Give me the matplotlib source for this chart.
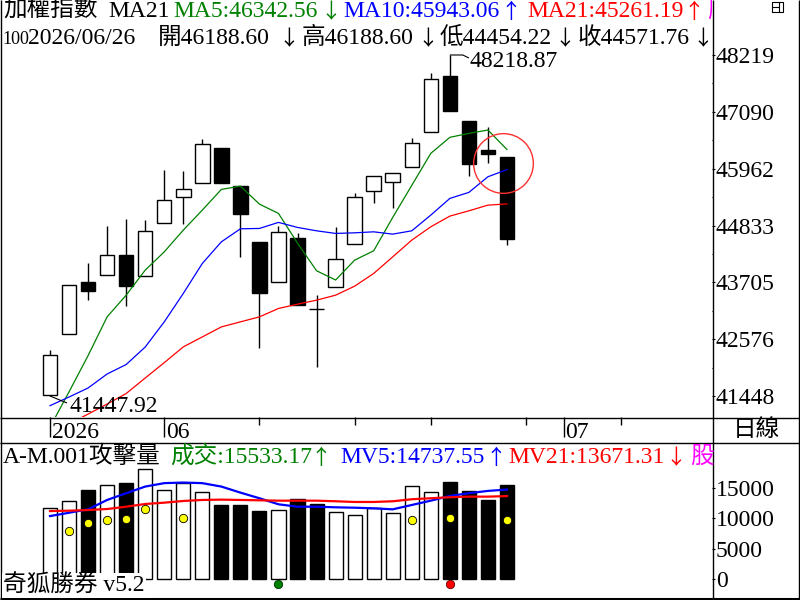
import matplotlib
matplotlib.use('Agg')
import matplotlib.pyplot as plt
from matplotlib.lines import Line2D
from matplotlib.transforms import Affine2D
import numpy as np

plt.rcParams['font.family'] = ['Liberation Serif', 'Noto Sans CJK TC', 'DejaVu Sans']

# ---------------- data ----------------
opens = [41463, 42675, 43709, 43848, 44245, 43828, 44881, 45397, 45676, 46371,
         45616, 44503, 43709, 44583, 43172, 43609, 44463, 45517, 45695, 45994,
         46689, 47802, 46908, 46331, 46188.60]
highs = [42357, 43649, 44086, 44821, 44960, 44941, 45934, 45914, 46550, 46371,
         45616, 44503, 44821, 44682, 43450, 44801, 45477, 45815, 45874, 46570,
         47861, 48218.87, 46908, 46788, 46188.60]
lows = [41447.92, 42675, 43351, 43848, 43232, 43828, 44881, 44861, 45676, 45676,
        44205, 42397, 43709, 43251, 42020, 43609, 44463, 45278, 45179, 45994,
        46689, 47106, 45815, 46073, 44454.22]
closes = [42258, 43649, 43530, 44245, 43629, 44722, 45338, 45556, 46451, 45676,
          45060, 43490, 44702, 43251, 43172, 44165, 45397, 45815, 45874, 46470,
          47742, 47106, 46053, 46252, 44571.76]

ma5 = [40831, 41530, 42250, 43019, 43450, 43947, 44310, 44742, 45139, 45550,
       45616, 45258, 45073, 44483, 43935, 43751, 44146, 44331, 44994, 45630,
       46266, 46584, 46663, 46729, 46342.56]
ma10 = [41256, 41428, 41607, 41885, 42073, 42420, 42920, 43484, 44080, 44509,
        44768, 44775, 44895, 44795, 44728, 44676, 44688, 44708, 44662, 44728,
        45040, 45371, 45491, 45801, 45943.06]
ma21 = [40693, 40893, 41089, 41288, 41497, 41805, 42110, 42423, 42621, 42820,
        42920, 43019, 43186, 43271, 43351, 43450, 43629, 43881, 44211, 44543,
        44808, 45020, 45125, 45238, 45261.19]

volumes = [11667, 12822, 14686, 15512, 15842, 18102, 14637, 15792, 14307, 12211,
           12211, 11221, 11331, 13152, 12376, 11007, 10561, 11667, 10842, 15297,
           14307, 16007, 14521, 13036, 15533.17]
vol_hollow = [1, 1, 0, 1, 0, 1, 1, 1, 1, 0, 0, 0, 1, 0, 0, 1, 1, 1, 1, 1, 1, 0, 0, 0, 0]
mv5 = [10396, 10940, 11502, 13036, 14142, 15231, 15792, 15891, 15792, 15231,
       14241, 13317, 12327, 11931, 11931, 11832, 11766, 11667, 11502, 12211,
       12921, 13696, 14142, 14521, 14737.55]
mv21 = [11221, 11276, 11386, 11551, 11931, 12376, 12591, 12871, 13036, 13091,
        13036, 12981, 12921, 12921, 12921, 12822, 12706, 12706, 12822, 13152,
        13317, 13482, 13581, 13581, 13671.31]

signal_idx = [1, 2, 3, 4, 5, 7, 19, 21, 24]
signal_vals = [7998, 9290, 9735, 9950, 11600, 10115, 9735, 10115, 9735]
buy_idx = [12]
sell_idx = [21]
marker_level = -740

price_ticks = [48219, 47090, 45962, 44833, 43705, 42576, 41448]
vol_ticks = [0, 5000, 10000, 15000]
date_major_pos = [0, 6, 27]
date_major_labels = ['2026', '06', '07']
date_minor_pos = [11, 16, 20, 25, 30]

circle_x, circle_y = 23.78, 46068

# ---------------- figure ----------------
W, H = 800, 600
FS = 17
fig = plt.figure(figsize=(8, 6), dpi=100)
PX = Affine2D().scale(1 / W, -1 / H).translate(0, 1) + fig.transFigure


def rect(x0, y0, x1, y1):
    return [x0 / W, 1 - y1 / H, (x1 - x0) / W, (y1 - y0) / H]


ax_p = fig.add_axes(rect(0, 0, 712, 417))
ax_d = fig.add_axes(rect(0, 417, 712, 442))
ax_v = fig.add_axes(rect(0, 442, 712, 600))

step = 19.04
xlim = (-50 / step, 662 / step)
for a in (ax_p, ax_d, ax_v):
    a.set_xlim(*xlim)
    for s in a.spines.values():
        s.set_visible(False)
    a.set_xticks([])

n = len(opens)
x = np.arange(n)
o = np.array(opens); c = np.array(closes); h = np.array(highs); l = np.array(lows)

# price panel
ax_p.set_ylim(41031, 49311)
ax_p.vlines(x, l, h, color='black', lw=1.0, zorder=2)
up = c >= o
ax_p.bar(x, np.abs(c - o), 0.76, np.minimum(o, c),
         color=['white' if u else 'black' for u in up],
         edgecolor='black', lw=1.0, zorder=3)
ax_p.plot(x, ma5, color='#008000', lw=0.9, zorder=4)
ax_p.plot(x, ma10, color='#0000ff', lw=0.9, zorder=4)
ax_p.plot(x, ma21, color='#ff0000', lw=0.9, zorder=4)
ax_p.plot([circle_x], [circle_y], 'o', ms=43, mfc='none', mec='#ff3030', mew=1.0, zorder=5)

ax_p.yaxis.tick_right()
ax_p.set_yticks(price_ticks)
ax_p.set_yticklabels([str(t) for t in price_ticks])
mids = [(price_ticks[i] + price_ticks[i + 1]) / 2 for i in range(len(price_ticks) - 1)]
ax_p.set_yticks(mids, minor=True)
ax_p.tick_params(axis='y', which='major', direction='out', length=2.5, width=0.8,
                 pad=0.3, labelsize=FS)
ax_p.tick_params(axis='y', which='minor', direction='out', length=1.0, width=0.8)

# date panel
ax_d.set_ylim(0, 1)
ax_d.set_yticks([])
ax_d.patch.set_alpha(0)
ax_d.vlines(date_major_pos, 0.2, 1, color='black', lw=1.0)
ax_d.vlines(date_minor_pos, 0.68, 1, color='black', lw=1.0)
for p, lab in zip(date_major_pos, date_major_labels):
    ax_d.text(p + 0.08, 0.16, lab, fontsize=FS, va='baseline', ha='left')

# volume panel
ax_v.set_ylim(-3360, 22536)
ax_v.bar(x, volumes, 0.74, color=['white' if v else 'black' for v in vol_hollow],
         edgecolor='black', lw=1.0, zorder=2)
ax_v.plot(x, mv5, color='#0000ff', lw=1.6, zorder=3)
ax_v.plot(x, mv21, color='#ff0000', lw=1.6, zorder=3)
ax_v.plot(signal_idx, signal_vals, 'o', ls='none', ms=6, mfc='#ffff00', mec='black', mew=0.6, zorder=4)
ax_v.plot(buy_idx, [marker_level] * len(buy_idx), 'o', ls='none', ms=6, mfc='#008000', mec='#003000', mew=0.6, zorder=4)
ax_v.plot(sell_idx, [marker_level] * len(sell_idx), 'o', ls='none', ms=6, mfc='#ff0000', mec='#600000', mew=0.6, zorder=4)
ax_v.yaxis.tick_right()
ax_v.set_yticks(vol_ticks)
ax_v.set_yticklabels([str(t) for t in vol_ticks])
ax_v.tick_params(axis='y', direction='out', length=2.5, width=0.8, pad=0.3, labelsize=FS)


# ---------------- helpers ----------------
def ptext(px, py, s, color='black', size=FS, clip=None, ha='left', **kw):
    t = fig.text(px, py, s, transform=PX, color=color, fontsize=size,
                 va='baseline', ha=ha, **kw)
    if clip is not None:
        t.set_clip_box(clip.bbox)
        t.set_clip_on(True)
    return t


ARROW_FONT = ['Noto Sans CJK TC', 'DejaVu Sans']


def arrow(cx, py, s, color='black', clip=None):
    return ptext(cx, py + 1, s, color, size=15, clip=clip, ha='center', family=ARROW_FONT)


def pline(xs, ys, lw=1.0, color='black'):
    fig.add_artist(Line2D(xs, ys, transform=PX, color=color, lw=lw,
                          solid_capstyle='butt'))


def to_px(ax, xv, yv):
    dx, dy = ax.transData.transform((xv, yv))
    return dx, H - dy


GREEN, BLUE, RED, MAG = '#008000', '#0000ff', '#ff0000', '#ff00ff'

# header line 1
ptext(3, 17, '加權指數')
ptext(108, 17, 'MA21')
ptext(173, 17, f'MA5:{ma5[-1]:.2f}', GREEN)
arrow(331, 17, '↓', GREEN)
ptext(343, 17, f'MA10:{ma10[-1]:.2f}', BLUE)
arrow(511, 17, '↑', BLUE)
ptext(527, 17, f'MA21:{ma21[-1]:.2f}', RED)
arrow(694, 17, '↑', RED)
ptext(707, 17, '股', MAG, clip=ax_p)

# header line 2
ptext(2, 44, '100', size=13)
ptext(28, 44, '2026/06/26')
ptext(158, 44, f'開{opens[-1]:.2f}')
arrow(289, 44, '↓')
ptext(302, 44, f'高{highs[-1]:.2f}')
arrow(428, 44, '↓')
ptext(440, 44, f'低{lows[-1]:.2f}')
arrow(565, 44, '↓')
ptext(578, 44, f'收{closes[-1]:.2f}')
arrow(703, 44, '↓', clip=ax_p)

# volume header
ptext(3, 463, 'A-M.001攻擊量')
ptext(170, 463, f'成交:{volumes[-1]:.2f}', GREEN)
arrow(321, 463, '↑', GREEN)
ptext(340, 463, f'MV5:{mv5[-1]:.2f}', BLUE)
arrow(496, 463, '↑', BLUE)
ptext(508, 463, f'MV21:{mv21[-1]:.2f}', RED)
arrow(676, 463, '↓', RED)
ptext(690, 463, '股', MAG)

# bottom-left label
ptext(3, 592, '奇狐勝券 v5.2',
      bbox=dict(facecolor='white', edgecolor='none', pad=1))

# 日線 box label
fig.text(756, 430, '日線', transform=PX, fontsize=FS, ha='center', va='center')

# high / low annotations
hx, hy = to_px(ax_p, 21, highs[21])
pline([hx, hx + 13, hx + 19], [hy, hy, hy + 3], lw=0.8)
ptext(hx + 20, hy + 12, f'{highs[21]:.2f}')
lx, ly = to_px(ax_p, 0, lows[0])
pline([lx, lx + 17], [ly, ly + 7], lw=0.8)
ptext(lx + 20, ly + 16, f'{lows[0]:.2f}')

# frame lines
pline([0.5, 0.5], [0, 600])
pline([799, 799], [0, 600])
pline([712.5, 712.5], [0, 600])
pline([0, 800], [417.5, 417.5])
pline([0, 800], [442.5, 442.5])
pline([0, 800], [598.5, 598.5], lw=2.2)

# small window icon
pline([772, 783, 783, 772, 772], [2, 2, 12, 12, 2], lw=0.8)
pline([779, 779], [2, 12], lw=0.8)
pline([772, 779], [7, 7], lw=0.8)

fig.savefig('out.png', dpi=100, facecolor='white')
